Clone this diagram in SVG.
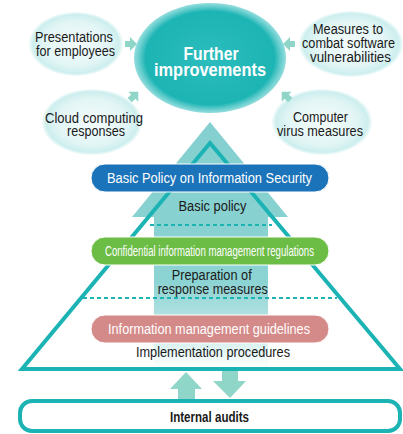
<svg xmlns="http://www.w3.org/2000/svg" width="403" height="434" viewBox="0 0 403 434">
<defs>
<radialGradient id="gSmall" cx="50%" cy="50%" r="50%">
<stop offset="0" stop-color="#f4fbfb"/>
<stop offset="0.7" stop-color="#e2f5f5"/>
<stop offset="0.92" stop-color="#cdeeee"/>
<stop offset="1" stop-color="#d8f2f2" stop-opacity="0.3"/>
</radialGradient>
<radialGradient id="gBig" cx="50%" cy="50%" r="50%">
<stop offset="0" stop-color="#2cbdbd"/>
<stop offset="0.85" stop-color="#1db4b4"/>
<stop offset="1" stop-color="#4cc6c6" stop-opacity="0.6"/>
</radialGradient>
<linearGradient id="gArrow" gradientUnits="userSpaceOnUse" x1="0" y1="122" x2="0" y2="368">
<stop offset="0" stop-color="#84cfcf"/>
<stop offset="0.65" stop-color="#8cd3d3"/>
<stop offset="0.8" stop-color="#b5e2e2"/>
<stop offset="1" stop-color="#ffffff"/>
</linearGradient>
<style>
.t{font-family:"Liberation Sans","Arial",sans-serif;text-anchor:middle;fill:#1a1a1a;}
.s{font-size:14px;}
.w{fill:#ffffff;font-size:14px;}
.b{font-weight:bold;}
.sm{fill:#8fd6c8;}
.tri{fill:none;stroke:#1bb3b3;stroke-width:4;stroke-linejoin:miter;}
.dash{stroke:#1bb3b3;stroke-width:2;stroke-dasharray:4 3;fill:none;}
</style>
</defs>

<!-- big background arrow -->
<g id="bigArrow">
<path d="M210,122 L288,217 L268,217 L268,368 L154,368 L154,217 L132,217 Z" fill="url(#gArrow)"/>
</g>

<!-- pyramid -->
<g id="pyramid">
<path class="tri" d="M210,143 L400,369 L22,369 Z"/>
<line class="dash" x1="150" y1="225" x2="272" y2="225"/>
<line class="dash" x1="83" y1="298" x2="337" y2="298"/>
</g>

<g id="further">
<ellipse cx="210" cy="58" rx="76" ry="55" fill="url(#gBig)"/>
<text class="t b" x="211" y="60" font-size="18" fill="#ffffff" style="fill:#ffffff" textLength="55" lengthAdjust="spacingAndGlyphs">Further</text>
<text class="t b" x="210" y="76" font-size="18" style="fill:#ffffff" textLength="112" lengthAdjust="spacingAndGlyphs">improvements</text>
</g>

<g id="presentations">
<ellipse cx="76" cy="44" rx="47" ry="32" fill="url(#gSmall)"/>
<text class="t s" x="74" y="42" textLength="78" lengthAdjust="spacingAndGlyphs">Presentations</text>
<text class="t s" x="75.5" y="56" textLength="79" lengthAdjust="spacingAndGlyphs">for employees</text>
</g>

<g id="vulnerabilities">
<ellipse cx="351" cy="44" rx="52" ry="33" fill="url(#gSmall)"/>
<text class="t s" x="348" y="34" textLength="70" lengthAdjust="spacingAndGlyphs">Measures to</text>
<text class="t s" x="348.5" y="48" textLength="93" lengthAdjust="spacingAndGlyphs">combat software</text>
<text class="t s" x="350.5" y="62" textLength="81" lengthAdjust="spacingAndGlyphs">vulnerabilities</text>
</g>

<g id="cloud">
<ellipse cx="92" cy="122" rx="50" ry="33" fill="url(#gSmall)"/>
<text class="t s" x="94" y="123" textLength="98" lengthAdjust="spacingAndGlyphs">Cloud computing</text>
<text class="t s" x="96" y="136" textLength="58" lengthAdjust="spacingAndGlyphs">responses</text>
</g>

<g id="virus">
<ellipse cx="322" cy="122" rx="50" ry="33" fill="url(#gSmall)"/>
<text class="t s" x="320.5" y="122" textLength="55" lengthAdjust="spacingAndGlyphs">Computer</text>
<text class="t s" x="320" y="136" textLength="86" lengthAdjust="spacingAndGlyphs">virus measures</text>
</g>

<g id="connectors">
<!-- small arrows towards center ellipse -->
<path class="sm" d="M125,41 L130,41 L130,37 L137,44 L130,51 L130,47 L125,47 Z"/>
<path class="sm" d="M295,41 L290,41 L290,37 L283,44 L290,51 L290,47 L295,47 Z"/>
<path class="sm" transform="translate(134,96) rotate(-45)" d="M-6,-3 L-1,-3 L-1,-7 L6,0 L-1,7 L-1,3 L-6,3 Z"/>
<path class="sm" transform="translate(286,96) rotate(-135)" d="M-6,-3 L-1,-3 L-1,-7 L6,0 L-1,7 L-1,3 L-6,3 Z"/>
<!-- up / down arrows -->
<path class="sm" d="M186,372 L202,389 L195,389 L195,400 L178,400 L178,389 L170,389 Z"/>
<path class="sm" d="M222,371 L238,371 L238,381 L246,381 L230,398 L213,381 L222,381 Z"/>
</g>

<g id="basicPolicy">
<rect x="91" y="164" width="238" height="28" rx="14" fill="#1b73b9" stroke="#ffffff" stroke-width="1"/>
<text class="t w" x="209.5" y="183" textLength="205" lengthAdjust="spacingAndGlyphs">Basic Policy on Information Security</text>
<text class="t s" x="212.5" y="211" textLength="68" lengthAdjust="spacingAndGlyphs">Basic policy</text>
</g>

<g id="confidential">
<rect x="91" y="237" width="238" height="28" rx="14" fill="#6cbd45" stroke="#ffffff" stroke-width="1"/>
<text class="t w" x="209.5" y="256" textLength="209" lengthAdjust="spacingAndGlyphs">Confidential information management regulations</text>
<text class="t s" x="211.7" y="280" textLength="80" lengthAdjust="spacingAndGlyphs">Preparation of</text>
<text class="t s" x="212.7" y="294" textLength="110" lengthAdjust="spacingAndGlyphs">response measures</text>
</g>

<g id="guidelines">
<rect x="91" y="315" width="238" height="28" rx="14" fill="#d48a88" stroke="#ffffff" stroke-width="1"/>
<text class="t w" x="209" y="334" textLength="202" lengthAdjust="spacingAndGlyphs">Information management guidelines</text>
<text class="t s" x="213" y="357" textLength="154" lengthAdjust="spacingAndGlyphs">Implementation procedures</text>
</g>

<g id="audits">
<rect x="20" y="401" width="380" height="30" rx="12" fill="#ffffff" stroke="#1bb3b3" stroke-width="4"/>
<text class="t s b" x="209.5" y="422" textLength="79" lengthAdjust="spacingAndGlyphs">Internal audits</text>
</g>
</svg>
